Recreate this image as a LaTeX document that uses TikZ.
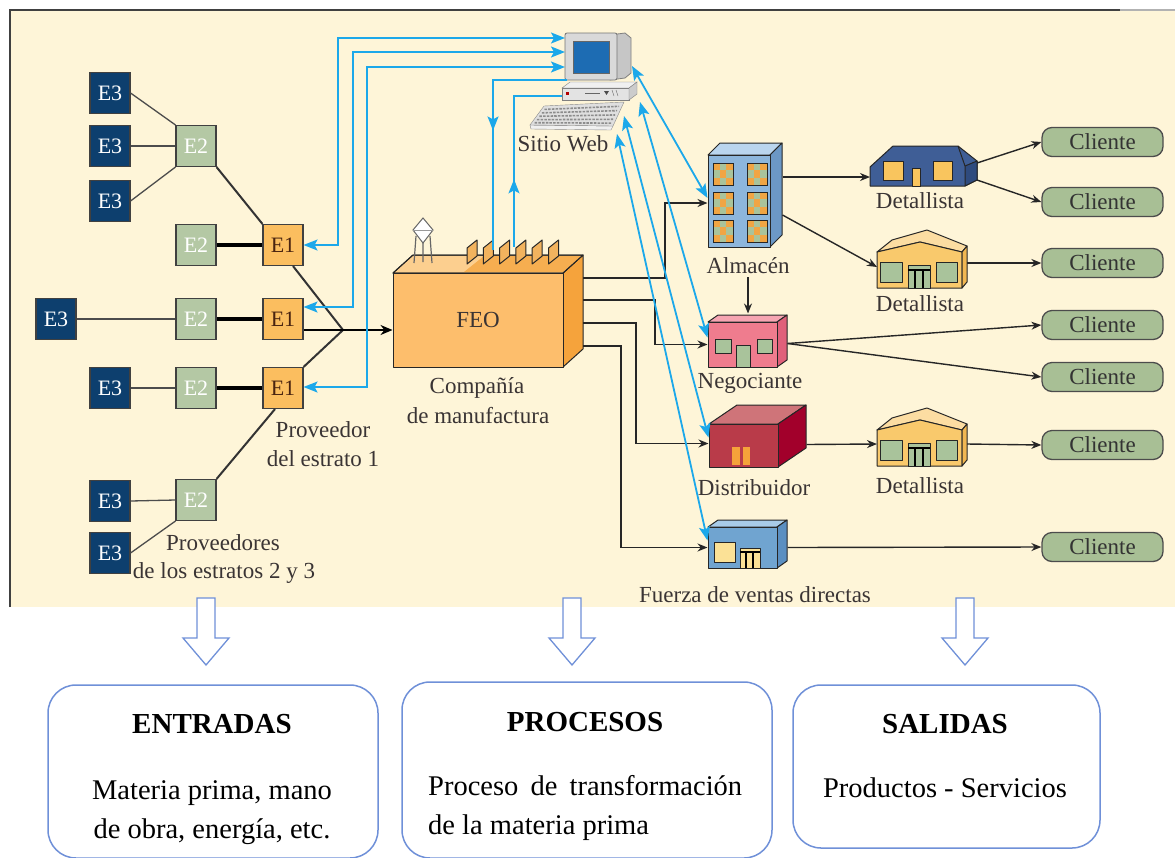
\documentclass[tikz,border=0pt]{standalone}
\usepackage{fontspec}
\setmainfont{Liberation Serif}
\usetikzlibrary{arrows.meta,decorations.markings,calc}

\definecolor{cream}{HTML}{FEF5D8}
\definecolor{e3c}{HTML}{0D3F6E}
\definecolor{e2c}{HTML}{B4C8A4}
\definecolor{e1c}{HTML}{FBBE5F}
\definecolor{e1text}{HTML}{4A2410}
\definecolor{clic}{HTML}{A8BF95}
\definecolor{webc}{HTML}{1CA8EA}
\definecolor{labc}{HTML}{3A3434}
\definecolor{feofront}{HTML}{FDBE6C}
\definecolor{feoside}{HTML}{F5A33C}
\definecolor{feotop}{HTML}{FCCF8F}
\definecolor{feoroof}{HTML}{F6AE50}
\definecolor{feotooth}{HTML}{F2B35E}
\definecolor{almfront}{HTML}{8DB6DC}
\definecolor{almtop}{HTML}{BAD5EE}
\definecolor{almside}{HTML}{6C98C6}
\definecolor{negfront}{HTML}{EF7C8E}
\definecolor{negtop}{HTML}{F6A5B2}
\definecolor{negside}{HTML}{E0607A}
\definecolor{disfront}{HTML}{B93B49}
\definecolor{distop}{HTML}{CF7479}
\definecolor{disside}{HTML}{A2002B}
\definecolor{fuefront}{HTML}{70A4D0}
\definecolor{fuetop}{HTML}{A8CBE8}
\definecolor{fueside}{HTML}{5B8FC1}
\definecolor{detblue}{HTML}{3F5E96}
\definecolor{detblueside}{HTML}{2F4B7E}
\definecolor{yfront}{HTML}{F9C96C}
\definecolor{yroof}{HTML}{FCDDA2}
\definecolor{yside}{HTML}{F1B752}
\definecolor{wingreen}{HTML}{A9C39B}
\definecolor{winyel}{HTML}{F9C55E}
\definecolor{winorange}{HTML}{F0A544}
\definecolor{doororange}{HTML}{F5A23A}
\definecolor{paleyel}{HTML}{FBE196}
\definecolor{screenblue}{HTML}{1D6CB3}
\definecolor{outline}{HTML}{6F90D8}

\newcommand\lblfont{\fontsize{23}{29}\selectfont}
\newcommand\efont{\fontsize{22}{26}\selectfont}
\newcommand\boxfont{\fontsize{28.5}{36}\selectfont}
\newcommand\headfont{\fontsize{29}{36}\selectfont\bfseries}

\begin{document}
\begin{tikzpicture}[x=1pt,y=-1pt,
  ebox/.style={draw=black!75, line width=1.1pt, minimum width=40pt, minimum height=41pt, inner sep=0pt, font=\efont},
  e3/.style={ebox, fill=e3c, text=white},
  e2/.style={ebox, fill=e2c, text=white},
  e1/.style={ebox, fill=e1c, text=e1text},
  cli/.style={draw=black!70, line width=1.3pt, fill=clic, rounded corners=10pt, minimum width=121pt, minimum height=29pt, inner sep=0pt, font=\lblfont, text=black!80},
  lbl/.style={font=\lblfont, text=labc, inner sep=0pt, anchor=base},
  boxtxt/.style={font=\boxfont, text=black, inner sep=0pt, anchor=base},
  boxhead/.style={font=\headfont, text=black, inner sep=0pt, anchor=base},
  bld/.style={draw=black!85, line width=1pt, line join=round},
  spot/.style={inner sep=0pt, outer sep=0pt},
  tlink/.style={draw=black!70, line width=1.3pt},
  mlink/.style={draw=black!80, line width=2pt},
  klink/.style={draw=black, line width=3.5pt},
  flow/.style={draw=black!85, line width=1.4pt, -{Stealth[length=10pt,width=8pt]}},
  web/.style={color=webc, line width=1.8pt},
  webboth/.style={web, {Stealth[length=14pt,width=11pt,inset=3pt]}-{Stealth[length=14pt,width=11pt,inset=3pt]}},
  midtip/.style={postaction={decorate}, decoration={markings, mark=at position #1 with {\arrow{Stealth[length=14pt,width=11pt,inset=3pt]}}}},
  outbox/.style={draw=outline, line width=1.5pt, fill=white, rounded corners=28pt, inner sep=0pt},
  hollow/.style={draw=outline, line width=1.3pt, fill=white, line join=miter},
  downarr/.pic={\filldraw[hollow] (-9,0) -- (9,0) -- (9,40) -- (23,40) -- (0,67) -- (-23,40) -- (-9,40) -- cycle;},
  yhouse/.pic={
    \filldraw[bld, fill=yroof] (0,22) -- (15,10) -- (50,0) -- (90,16) -- (85,22) -- (43,12) -- cycle;
    \filldraw[bld, fill=yfront] (0,22) -- (43,12) -- (85,22) -- (85,58) -- (0,58) -- cycle;
    \filldraw[bld, fill=yside] (85,22) -- (90,16) -- (90,52) -- (85,58) -- cycle;
    \filldraw[bld, fill=wingreen] (3,32) rectangle (25,52);
    \filldraw[bld, fill=wingreen] (59,32) rectangle (80,52);
    \filldraw[bld, fill=wingreen] (31,35) rectangle (53,58);
    \draw[black, line width=1.6pt] (31,40) -- (53,40) (38,40) -- (38,58) (46,40) -- (46,58);
  }
]
\useasboundingbox (0,0) rectangle (1175,857);

% ---------- panel ----------
\fill[cream] (10,10) rectangle (1175,607);
\draw[black!75, line width=2pt] (10,607) -- (10,10) -- (1120,10);
\draw[black!30, line width=2pt] (1120,10) -- (1175,10);

% ---------- suppliers ----------
\node[e3] (a1) at (110,93) {E3};
\node[e3] (a2) at (110,146) {E3};
\node[e3] (a3) at (110,201) {E3};
\node[e3] (b3) at (56,319) {E3};
\node[e3] (c3) at (110,388) {E3};
\node[e3] (d1) at (110,501) {E3};
\node[e3] (d2) at (110,553) {E3};

\node[e2] (A) at (196,146) {E2};
\node[e2] (B) at (196,245) {E2};
\node[e2] (C) at (196,319) {E2};
\node[e2] (D) at (196,388) {E2};
\node[e2] (E) at (196,500) {E2};

\node[e1] (P1) at (283,245) {E1};
\node[e1] (P2) at (283,319) {E1};
\node[e1] (P3) at (283,388) {E1};

\draw[tlink] (a1.east) -- (A.north west);
\draw[tlink] (a2.east) -- (A.west);
\draw[tlink] (a3.east) -- (A.south west);
\draw[tlink] (b3.east) -- (C.west);
\draw[tlink] (c3.east) -- (D.west);
\draw[tlink] (d1.east) -- (E.west);
\draw[tlink] (d2.east) -- (E.south west);
\draw[mlink] (A.south east) -- (P1.north west);
\draw[klink] (B.east) -- (P1.west);
\draw[klink] (C.east) -- (P2.west);
\draw[klink] (D.east) -- (P3.west);
\draw[mlink] ([xshift=-8pt]P3.south) -- (E.north east);

\node[lbl] (lp1) at (323,437) {Proveedor};
\node[lbl] (lp2) at (323,466) {del estrato 1};
\node[lbl] (lq1) at (223,550) {Proveedores};
\node[lbl] (lq2) at (224,578) {de los estratos 2 y 3};

% ---------- factory ----------
\filldraw[bld, fill=feoside] (563,273) -- (583,255) -- (583,349) -- (563,367) -- cycle;
\filldraw[bld, fill=feotop] (393,273) -- (413,255) -- (583,255) -- (563,273) -- cycle;
\fill[feoroof] (464,272) -- (484,256) -- (582,256) -- (563,272) -- cycle;
\draw[bld] (393,273) -- (413,255) -- (583,255) -- (563,273) -- cycle;
\foreach \k in {0,...,5}
  \filldraw[bld, fill=feotooth] ({467+16.3*\k},264) -- ++(0,-16) -- ++(10,-8) -- ++(0,16) -- cycle;
% water tower
\draw[black!60, line width=1.2pt] (416,236) -- (414,263) (430,236) -- (432,263) (423,242) -- (423,262);
\filldraw[draw=black!60, fill=white, line width=1pt] (413,230) -- (423,218) -- (433,230) -- (423,243) -- cycle;
\draw[black!40] (413,230) -- (433,230);
\node[bld, fill=feofront, minimum width=170pt, minimum height=94pt, inner sep=0pt, font=\lblfont, text=labc] (feo) at (478,320) {FEO};
\node[lbl] (lf1) at (477,393) {Compañía};
\node[lbl] (lf2) at (478,423) {de manufactura};

\coordinate (J) at (343,330);
\draw[mlink] ([xshift=10pt]P1.south) -- (J);
\draw[mlink] (P3.north east) -- (J);
\draw[draw=black, line width=2.5pt, -{Stealth[length=12pt,width=10pt]}] ([yshift=-11pt]P2.east) -- (J) -- (feo.west |- J);

% ---------- web site ----------
\filldraw[draw=black!50, fill=gray!45, line width=0.8pt] (610,35) -- (625,33) -- (631,38) -- (631,73) -- (625,78) -- (610,80) -- cycle;
\filldraw[draw=black!55, fill=gray!30, rounded corners=2pt, line width=0.8pt] (565,33) rectangle (617,80);
\filldraw[draw=black!60, fill=screenblue] (573,41) rectangle (609,73);
\filldraw[draw=black!50, fill=gray!12] (562,88) -- (570,82) -- (637,82) -- (629,88) -- cycle;
\filldraw[draw=black!50, fill=gray!22] (562,88) rectangle (629,100);
\filldraw[draw=black!50, fill=gray!40] (629,88) -- (637,82) -- (637,94) -- (629,100) -- cycle;
\fill[red!70!black] (566,92) rectangle (569,95);
\draw[black!60, line width=1pt] (585,93) -- (600,93);
\fill[black!70] (604,91) -- (609,91) -- (606.5,95) -- cycle;
\draw[black!60] (612,90) -- (614,96) (616,90) -- (618,96);
\filldraw[draw=black!45, fill=gray!12] (530,125) -- (613,126) -- (611,130) -- (531,129) -- cycle;
\filldraw[draw=black!45, fill=gray!25] (530,125) -- (544,106) -- (624,102) -- (613,126) -- cycle;
\foreach \t in {0.18,0.36,0.54,0.72,0.88}
  \draw[black!45, line width=1.6pt, dash pattern=on 2.5pt off 1.2pt]
    ($(544,106)!\t!(530,125)+(3,0)$) -- ($(624,102)!\t!(613,126)+(-3,0)$);
\node[lbl] (lweb) at (563,151) {Sitio Web};

\coordinate (w1) at (565,38);
\coordinate (w2) at (565,52);
\coordinate (w3) at (565,67);
\coordinate (w4) at (567,80);
\coordinate (w5) at (562,96);
\coordinate (w6) at (632,66);
\coordinate (w7) at (640,102);
\coordinate (w8) at (624,116);
\coordinate (w9) at (617,134);
\coordinate (f1) at (493,250);
\coordinate (f2) at (514,247);

% ---------- buildings ----------
% warehouse
\filldraw[bld, fill=almtop] (708,155) -- (720,143) -- (782,143) -- (770,155) -- cycle;
\filldraw[bld, fill=almside] (770,155) -- (782,143) -- (782,235) -- (770,247) -- cycle;
\node[bld, fill=almfront, minimum width=62pt, minimum height=92pt, inner sep=0pt] (alm) at (739,201) {};
\foreach \cx in {713,747}
  \foreach \cy in {163,192,220} {
    \fill[winorange] (\cx,\cy) rectangle ++(20,22);
    \fill[wingreen] (\cx+6.7,\cy) rectangle ++(6.6,22);
    \fill[wingreen] (\cx,\cy+7.3) rectangle ++(20,7.4);
    \fill[winorange] (\cx+6.7,\cy+7.3) rectangle ++(6.6,7.4);
    \draw[black!85, line width=1pt] (\cx,\cy) rectangle ++(20,22);
  }
\node[lbl] (lalm) at (748,273) {Almacén};

% merchant
\filldraw[bld, fill=negtop] (708,322) -- (718,315) -- (787,315) -- (777,322) -- cycle;
\filldraw[bld, fill=negside] (777,322) -- (787,315) -- (787,360) -- (777,367) -- cycle;
\node[bld, fill=negfront, minimum width=69pt, minimum height=45pt, inner sep=0pt] (neg) at (742.5,344.5) {};
\filldraw[bld, fill=wingreen] (715,339) rectangle (731,353);
\filldraw[bld, fill=wingreen] (736,345) rectangle (750,367);
\filldraw[bld, fill=wingreen] (757,339) rectangle (772,353);
\node[lbl] (lneg) at (750,388) {Negociante};

% distributor
\filldraw[bld, fill=distop] (709,424) -- (737,405) -- (806,405) -- (778,424) -- cycle;
\filldraw[bld, fill=disside] (778,424) -- (806,405) -- (806,448) -- (778,467) -- cycle;
\node[bld, fill=disfront, minimum width=69pt, minimum height=43pt, inner sep=0pt] (dis) at (743.5,445.5) {};
\fill[doororange] (732,447) rectangle (740,465);
\fill[doororange] (743,447) rectangle (750,465);
\node[lbl] (ldis) at (754,495) {Distribuidor};

% direct sales force
\filldraw[bld, fill=fuetop] (708,527) -- (718,520) -- (787,520) -- (777,527) -- cycle;
\filldraw[bld, fill=fueside] (777,527) -- (787,520) -- (787,561) -- (777,568) -- cycle;
\node[bld, fill=fuefront, minimum width=69pt, minimum height=41pt, inner sep=0pt] (fue) at (742.5,547.5) {};
\filldraw[bld, fill=paleyel] (714,542) rectangle (735,562);
\filldraw[bld, fill=paleyel] (740,548) rectangle (760,568);
\draw[black, line width=1.5pt] (740,552) -- (760,552) (746,552) -- (746,568) (753,552) -- (753,568);
\node[lbl] (lfue) at (755,602) {Fuerza de ventas directas};

% retailer (blue)
\filldraw[bld, fill=detblue] (870,186) -- (870,167) -- (893,146) -- (958,146) -- (977,161) -- (977,180) -- (965,186) -- cycle;
\filldraw[bld, fill=detblueside] (965,186) -- (965,166) -- (977,161) -- (977,180) -- cycle;
\draw[bld] (958,146) -- (965,166);
\node[spot, minimum width=107pt, minimum height=40pt] (det1) at (923.5,166) {};
\filldraw[bld, fill=winyel] (883,161) rectangle (903,180);
\filldraw[bld, fill=winyel] (912,168) rectangle (920,186);
\filldraw[bld, fill=winyel] (933,161) rectangle (952,180);
\node[lbl] (ld1) at (920,208) {Detallista};

% retailers (yellow)
\pic at (877,230) {yhouse};
\node[spot, minimum width=90pt, minimum height=58pt] (det2) at (922,259) {};
\node[lbl] (ld2) at (920,311) {Detallista};
\pic at (877,408) {yhouse};
\node[spot, minimum width=90pt, minimum height=58pt] (det3) at (922,437) {};
\node[lbl] (ld3) at (920,493) {Detallista};

% ---------- customers ----------
\node[cli] (c1) at (1102.5,142) {Cliente};
\node[cli] (c2) at (1102.5,202) {Cliente};
\node[cli] (c3) at (1102.5,263) {Cliente};
\node[cli] (c4) at (1102.5,325) {Cliente};
\node[cli] (c5) at (1102.5,377) {Cliente};
\node[cli] (c6) at (1102.5,445) {Cliente};
\node[cli] (c7) at (1102.5,547) {Cliente};

% ---------- product flows ----------
\coordinate (o1) at (583,278);
\coordinate (o2) at (583,300);
\coordinate (o3) at (583,323);
\coordinate (o4) at (583,346);
\draw[flow] (o1) -- ++(82,0) |- ([yshift=-2pt]alm.west);
\draw[flow] (o2) -- ++(72,0) |- (neg.west);
\draw[flow] (o3) -- ++(53,0) |- ([yshift=2pt]dis.west);
\draw[flow] (o4) -- ++(38,0) |- (fue.west);

\draw[flow] ([xshift=9pt,yshift=-76pt]alm.center) -- ([xshift=5.5pt,yshift=8pt]neg.north);
\draw[flow] ([xshift=12pt,yshift=24pt]alm.east) -- ([yshift=-11pt]det1.west);
\draw[flow] ([xshift=12pt,yshift=-14pt]alm.east) -- ([yshift=-8pt]det2.west);
\draw[flow] ([yshift=3pt]det1.east) -- (c1.west);
\draw[flow] ([yshift=-14pt]det1.east) -- (c2.west);
\draw[flow] ([yshift=-4pt]det2.east) -- (c3.west);
\draw[flow] ([xshift=10pt,yshift=1pt]neg.east) -- (c4.west);
\draw[flow] ([xshift=10pt,yshift=1pt]neg.east) -- (c5.west);
\draw[flow] ([xshift=28pt,yshift=1pt]dis.east) -- ([yshift=-7pt]det3.west);
\draw[flow] ([yshift=-7pt]det3.east) -- (c6.west);
\draw[flow] ([xshift=10pt]fue.east) -- (c7.west);

% ---------- information links (web) ----------
\draw[webboth] (P1.east) -| (338,38) -- (w1);
\draw[webboth] ([yshift=12pt]P2.east) -| (353,52) -- (w2);
\draw[webboth] ([yshift=1pt]P3.east) -| (367,67) -- (w3);
\draw[web, midtip=0.51] (w4) -| (f1);
\draw[web, midtip=0.34] (f2) |- (w5);
\draw[webboth] (w6) -- ([yshift=3pt]alm.west);
\draw[webboth] (w7) -- ([yshift=7pt]neg.west);
\draw[webboth] (w8) -- ([yshift=8pt]dis.west);
\draw[webboth] (w9) -- ([yshift=7pt]fue.west);

% ---------- input / process / output ----------
\pic at (206,598) {downarr};
\pic at (572,598) {downarr};
\pic at (965,598) {downarr};

\node[outbox, minimum width=330pt, minimum height=173pt] (bin) at (213,771.5) {};
\node[outbox, minimum width=370pt, minimum height=176pt] (bproc) at (587,770) {};
\node[outbox, minimum width=307pt, minimum height=163pt] (bout) at (946.5,766.5) {};

\node[boxhead] (hin) at (212,733) {ENTRADAS};
\node[boxtxt] (tin1) at (212,799) {Materia prima, mano};
\node[boxtxt] (tin2) at (212,838) {de obra, energía, etc.};
\node[boxhead] (hproc) at (585,731) {PROCESOS};
\node[boxtxt, anchor=base west] (tproc1) at (428,795) {\makebox[314pt][s]{Proceso de transformación}};
\node[boxtxt, anchor=base west] (tproc2) at (428,834) {de la materia prima};
\node[boxhead] (hout) at (945,733) {SALIDAS};
\node[boxtxt] (tout) at (945,797) {Productos - Servicios};
\end{tikzpicture}
\end{document}
